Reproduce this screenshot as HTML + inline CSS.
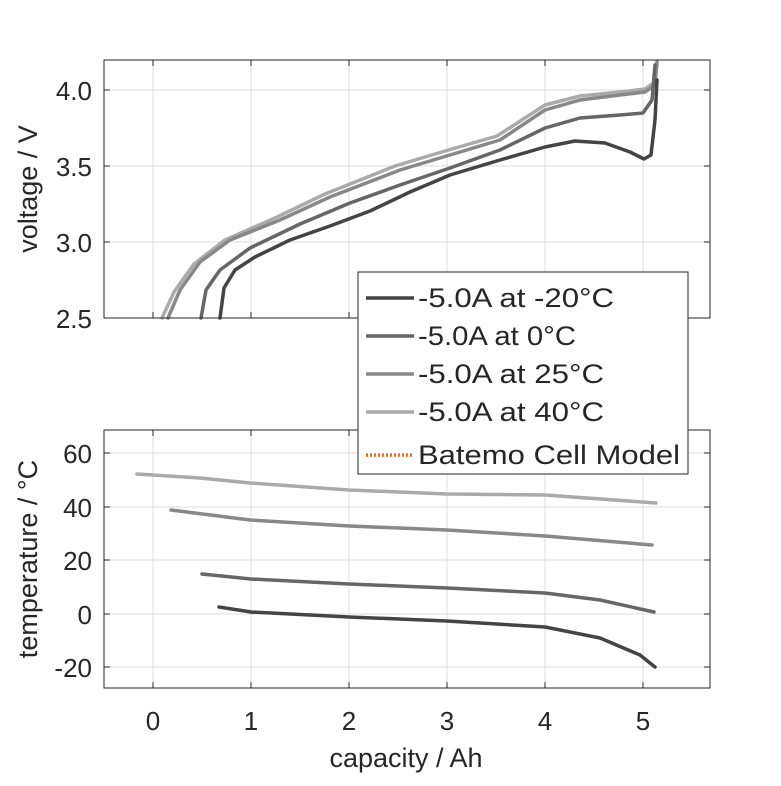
<!DOCTYPE html>
<html><head><style>body{margin:0;background:#fff}</style></head><body>
<svg width="781" height="781" xmlns="http://www.w3.org/2000/svg" font-family="Liberation Sans, sans-serif" fill="#262626">
<rect width="781" height="781" fill="#fff"/>
<g stroke="#dcdcdc" stroke-width="1">
<line x1="153" y1="60" x2="153" y2="318"/><line x1="251" y1="60" x2="251" y2="318"/><line x1="349" y1="60" x2="349" y2="318"/><line x1="447" y1="60" x2="447" y2="318"/><line x1="545" y1="60" x2="545" y2="318"/><line x1="643" y1="60" x2="643" y2="318"/>
<line x1="104" y1="90" x2="710" y2="90"/><line x1="104" y1="166" x2="710" y2="166"/><line x1="104" y1="242" x2="710" y2="242"/>
<line x1="153" y1="430" x2="153" y2="688"/><line x1="251" y1="430" x2="251" y2="688"/><line x1="349" y1="430" x2="349" y2="688"/><line x1="447" y1="430" x2="447" y2="688"/><line x1="545" y1="430" x2="545" y2="688"/><line x1="643" y1="430" x2="643" y2="688"/>
<line x1="104" y1="453" x2="710" y2="453"/><line x1="104" y1="507" x2="710" y2="507"/><line x1="104" y1="560" x2="710" y2="560"/><line x1="104" y1="614" x2="710" y2="614"/><line x1="104" y1="667" x2="710" y2="667"/>
</g>
<g fill="none" stroke-width="3.5" stroke-linejoin="round" stroke-linecap="round">
<polyline stroke="#aaa" points="162,318 174,292 194,264 225,240 275,218 325,194 395,166 445,151 497,136 545,105 580,96 620,92 645,89 655,82 657,62"/>
<polyline stroke="#888" points="168,318 180,290 200,262 230,240 280,220 330,197 400,170 450,155 500,140 545,110 580,100 620,95 645,92 655,85 657,62"/>
<polyline stroke="#666" points="201,318 206,290 220,270 250,248 300,224 350,203 400,185 450,168 500,150 545,128 580,118 620,115 643,113 652,100 655,65"/>
<polyline stroke="#444" points="220,318 224,288 235,270 255,257 290,240 330,226 370,211 410,192 450,175 500,160 545,147 575,141 605,143 630,152 644,159 651,155 655,120 657,80"/>
<polyline stroke="#aaa" points="137,474 200,478 250,483 349,490 447,494 545,495 656,503"/>
<polyline stroke="#888" points="171,510 250,520 349,526 447,530 545,536 652,545"/>
<polyline stroke="#666" points="202,574 251,579 349,584 447,588 545,593 600,600 654,612"/>
<polyline stroke="#444" points="219,607 251,612 349,617 447,621 545,627 600,638 640,655 655,667"/>
</g>
<g fill="none" stroke="#262626" stroke-width="1">
<rect x="104" y="60" width="606" height="258"/>
<rect x="104" y="430" width="606" height="258"/>
<path d="M153,318v-6M251,318v-6M349,318v-6M447,318v-6M545,318v-6M643,318v-6M153,60v6M251,60v6M349,60v6M447,60v6M545,60v6M643,60v6
M153,688v-6M251,688v-6M349,688v-6M447,688v-6M545,688v-6M643,688v-6M153,430v6M251,430v6M349,430v6M447,430v6M545,430v6M643,430v6
M104,90h6M104,166h6M104,242h6M710,90h-6M710,166h-6M710,242h-6
M104,453h6M104,507h6M104,560h6M104,614h6M104,667h6M710,453h-6M710,507h-6M710,560h-6M710,614h-6M710,667h-6"/>
</g>
<g font-size="26" text-anchor="end">
<text x="92" y="100">4.0</text><text x="92" y="176">3.5</text><text x="92" y="252">3.0</text><text x="92" y="328">2.5</text>
<text x="92" y="463">60</text><text x="92" y="517">40</text><text x="92" y="570">20</text><text x="92" y="624">0</text><text x="92" y="677">-20</text>
</g>
<g font-size="26" text-anchor="middle">
<text x="153" y="730">0</text><text x="251" y="730">1</text><text x="349" y="730">2</text><text x="447" y="730">3</text><text x="545" y="730">4</text><text x="643" y="730">5</text>
<text x="406" y="767" font-size="27">capacity / Ah</text>
<text transform="translate(37,189) rotate(-90)" font-size="27">voltage / V</text>
<text transform="translate(37,559) rotate(-90)" font-size="27">temperature / °C</text>
</g>
<rect x="358" y="272" width="330" height="202" fill="#fff" stroke="#262626"/>
<g stroke-width="3.5">
<line x1="366" y1="298" x2="414" y2="298" stroke="#444"/>
<line x1="366" y1="336" x2="414" y2="336" stroke="#666"/>
<line x1="366" y1="374" x2="414" y2="374" stroke="#888"/>
<line x1="366" y1="412" x2="414" y2="412" stroke="#aaa"/>
<line x1="366" y1="455" x2="414" y2="455" stroke="#f26b1d" stroke-dasharray="2,2"/>
</g>
<g font-size="27">
<text x="418" y="307" textLength="196" lengthAdjust="spacingAndGlyphs">-5.0A at -20°C</text>
<text x="418" y="345" textLength="158" lengthAdjust="spacingAndGlyphs">-5.0A at 0°C</text>
<text x="418" y="383" textLength="186" lengthAdjust="spacingAndGlyphs">-5.0A at 25°C</text>
<text x="418" y="421" textLength="186" lengthAdjust="spacingAndGlyphs">-5.0A at 40°C</text>
<text x="418" y="464" textLength="262" lengthAdjust="spacingAndGlyphs">Batemo Cell Model</text>
</g>
</svg>
</body></html>
